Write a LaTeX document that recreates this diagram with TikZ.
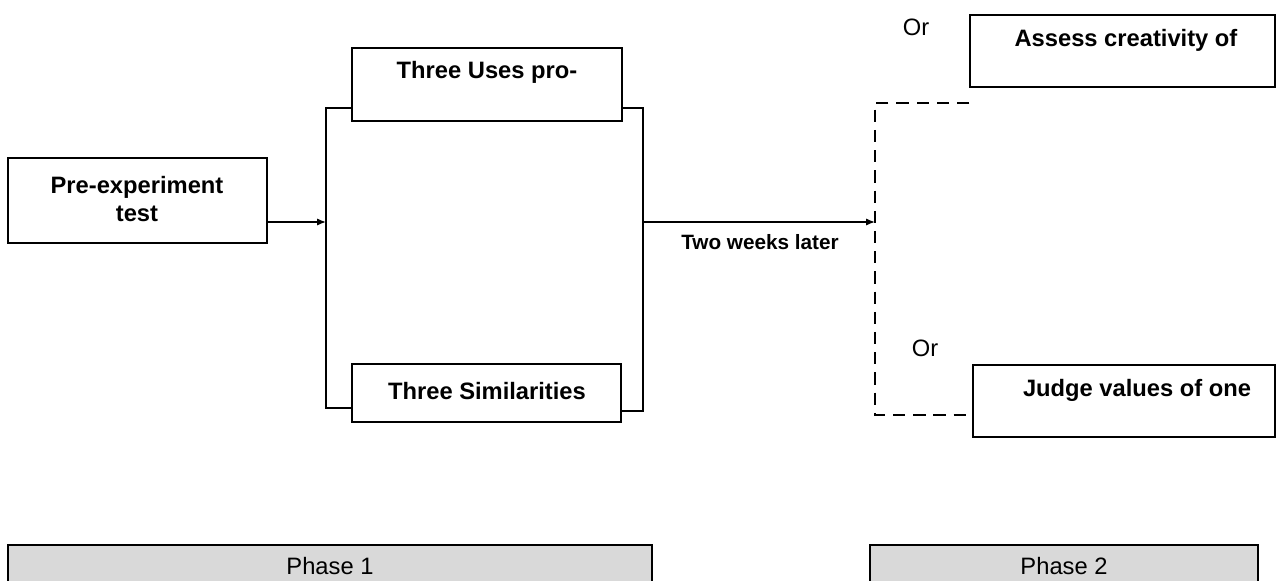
\documentclass[tikz,border=0pt]{standalone}
\usepackage{fontspec}
\setmainfont{Liberation Sans}
\usetikzlibrary{positioning,fit,arrows.meta}

\tikzset{
    box/.style={draw, line width=0.8pt, inner sep=0pt},
    phasebox/.style={box, fill=gray!30},
    boldtxt/.style={font=\bfseries\fontsize{13.5}{16}\selectfont, align=center},
    smalltxt/.style={font=\bfseries\fontsize{11.8}{14}\selectfont},
    plaintxt/.style={font=\fontsize{13.5}{16}\selectfont},
    link/.style={line width=0.8pt},
    dashlink/.style={line width=0.8pt, dash pattern=on 7pt off 4.5pt},
}

\begin{document}
\begin{tikzpicture}[x=0.02cm, y=-0.02cm]
    \clip (0,0) rectangle (1277,581);

    % Phase 1 boxes
    \node[box, fit={(8,158) (267,243)}] (pre) {};
    \node[boldtxt] (pretxt) at (137,199) {Pre-experiment\\test};
    \node[box, fit={(352,48) (622,121)}] (uses) {};
    \node[boldtxt] (usestxt) at (487,72) {Three Uses pro-};
    \node[box, fit={(352,364) (621,422)}] (sim) {};
    \node[boldtxt] (simtxt) at (487,391) {Three Similarities};

    % Phase 2 boxes
    \node[box, fit={(970,15) (1275,87)}] (assess) {};
    \node[boldtxt] (assesstxt) at (1126,40) {Assess creativity of};
    \node[box, fit={(973,365) (1275,437)}] (judge) {};
    \node[boldtxt] (judgetxt) at (1137,390) {Judge values of one};

    \node[plaintxt] (ortop) at (916,27) {Or};
    \node[plaintxt] (orbot) at (925,348) {Or};

    % bracket round the two tasks
    \coordinate (lt) at (326,108);
    \coordinate (lb) at (326,408);
    \coordinate (rt) at (643,108);
    \coordinate (rb) at (643,411);
    \coordinate (in) at (326,222);
    \coordinate (out) at (643,222);

    \draw[link] (uses.west |- lt) -- (lt) -- (lb) -- (sim.west |- lb);
    \draw[link] (uses.east |- rt) -- (rt) -- (rb) -- (sim.east |- rb);
    \draw[link, -{Latex[length=5pt,width=4pt]}] (pre.east |- in) -- (in);

    % dashed bracket of phase 2
    \coordinate (dt) at (875,103);
    \coordinate (db) at (875,415);
    \coordinate (split) at (875,222);

    \draw[dashlink] (assess.south west |- dt) -- (dt) -- (db) -- (judge.west |- db);
    \draw[link, -{Latex[length=5pt,width=4pt]}] (out) -- (split);
    \node[smalltxt] (later) at (760,242) {Two weeks later};

    % phases
    \node[phasebox, fit={(8,545) (652,590)}] (phaseone) {};
    \node[plaintxt] (phaseonetxt) at (330,566) {Phase 1};
    \node[phasebox, fit={(870,545) (1258,590)}] (phasetwo) {};
    \node[plaintxt] (phasetwotxt) at (1064,566) {Phase 2};
\end{tikzpicture}
\end{document}
